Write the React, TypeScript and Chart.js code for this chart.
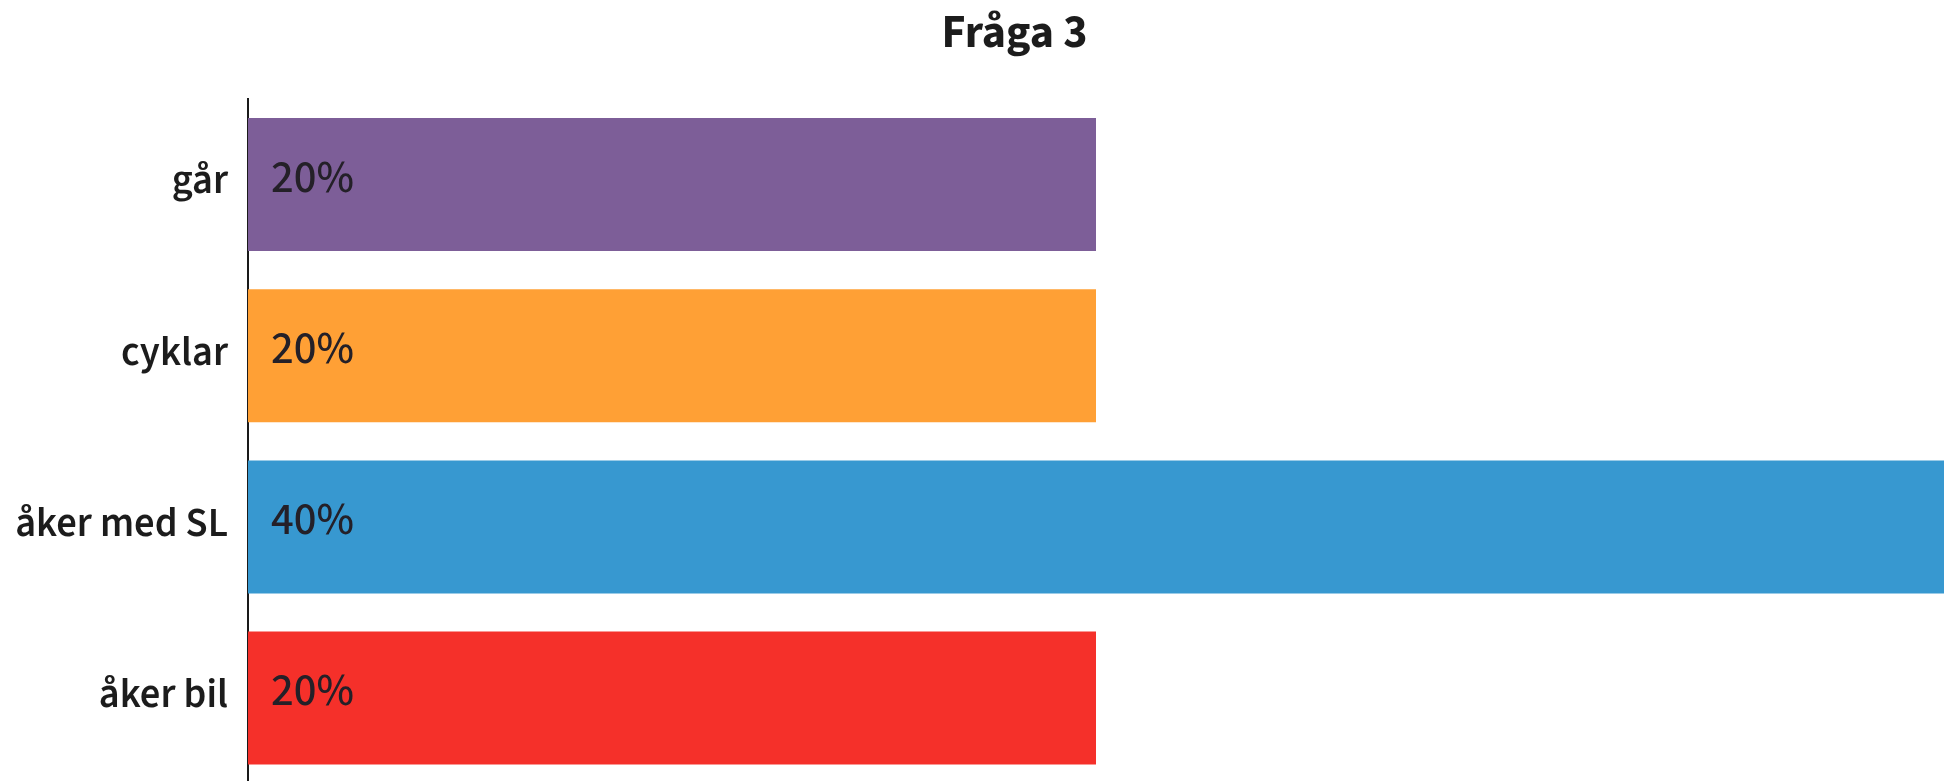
import React, { useEffect, useRef } from "react";
import { Chart, registerables } from "chart.js";

Chart.register(...registerables);

const categories = ["går", "cyklar", "åker med SL", "åker bil"];
const values = [20, 20, 40, 20];
const barColors = ["#7d5e98", "#ffa035", "#3798d0", "#f5302a"];
const titleText = "Fråga 3";
const FONT = "'Source Sans 3', 'Open Sans', sans-serif";

const titlePlugin = {
  id: "customTitle",
  afterDraw(chart: any) {
    const ctx = chart.ctx;
    ctx.save();
    ctx.font = `700 46px ${FONT}`;
    ctx.fillStyle = "#1c1c1c";
    ctx.textAlign = "center";
    ctx.textBaseline = "alphabetic";
    ctx.fillText(titleText, chart.width * 0.52, 47);
    ctx.restore();
  },
};

const valueLabelPlugin = {
  id: "valueLabels",
  afterDatasetsDraw(chart: any) {
    const ctx = chart.ctx;
    const meta = chart.getDatasetMeta(0);
    ctx.save();
    ctx.font = `500 45px ${FONT}`;
    ctx.fillStyle = "#242028";
    ctx.textAlign = "left";
    ctx.textBaseline = "alphabetic";
    meta.data.forEach((bar: any, i: number) => {
      const v = chart.data.datasets[0].data[i];
      ctx.fillText(`${v}%`, bar.base + 23, bar.y + 7);
    });
    ctx.restore();
  },
};

export default function App() {
  const ref = useRef<HTMLCanvasElement>(null);
  useEffect(() => {
    if (!ref.current) return;
    const chart = new Chart(ref.current, {
      type: "bar",
      data: {
        labels: categories,
        datasets: [
          {
            data: values,
            backgroundColor: barColors,
            borderWidth: 0,
            categoryPercentage: 0.777,
            barPercentage: 1,
          },
        ],
      },
      options: {
        indexAxis: "y",
        responsive: false,
        animation: false,
        devicePixelRatio: 1,
        layout: { autoPadding: false, padding: { left: 0, right: 7, top: 99, bottom: 15 } },
        plugins: {
          legend: { display: false },
          tooltip: { enabled: false },
          title: { display: false },
        },
        scales: {
          x: { display: false, min: 0, max: 40 },
          y: {
            grid: { display: false, drawTicks: false },
            border: { display: true, color: "#1a1a1a", width: 2 },
            ticks: {
              color: "#1c1c1c",
              padding: 20,
              font: { family: FONT, size: 40.5, weight: "600" },
            },
            afterFit(scale: any) {
              scale.width = 248;
            },
          },
        },
      },
      plugins: [valueLabelPlugin, titlePlugin],
    } as any);
    return () => chart.destroy();
  }, []);
  return (
    <div
      style={{
        position: "fixed",
        left: 0,
        top: 0,
        width: 1951,
        height: 781,
        overflow: "hidden",
        background: "#fff",
      }}
    >
      <canvas ref={ref} width={1951} height={828} style={{ display: "block", width: 1951, height: 828 }} />
    </div>
  );
}
